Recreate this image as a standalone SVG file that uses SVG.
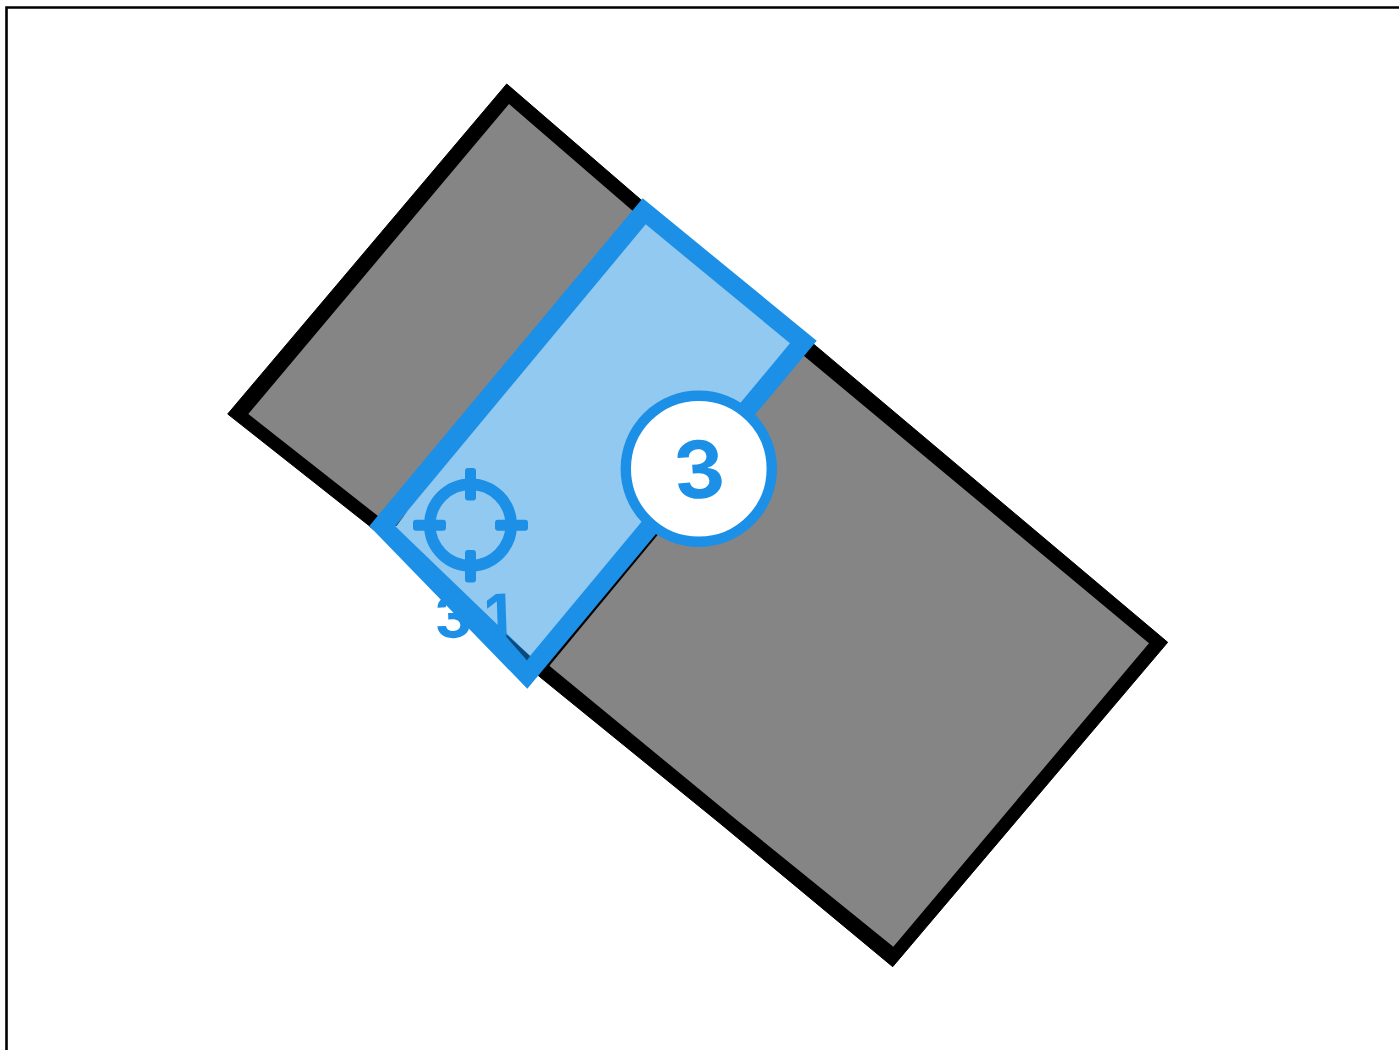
<svg xmlns="http://www.w3.org/2000/svg" width="1399" height="1050" viewBox="0 0 1399 1050">
<style>
.lbl{font-family:"Inter","Liberation Sans",sans-serif;font-weight:700;fill:#1c8fe6;text-anchor:middle}
.blue{fill:#1c8fe6}
</style>
<rect x="0" y="0" width="1399" height="1050" fill="#fff"/>
<g id="frame"><path d="M6.5 1050V7.5H1399" fill="none" stroke="#000" stroke-width="2.6"/></g>
<g id="zone-outer">
<polygon points="506.7,84 640,199 816.7,346.7 1167.7,642.3 892.7,966.7 720,823.3 540,677 368.3,525 227.7,414" fill="#000" stroke="#000" stroke-width="1" stroke-linejoin="round"/>
<polygon points="509,104 631.7,210 805,356.7 1149,643.3 893.3,946.7 736.7,820 552,668 376.7,515 248.3,414" fill="#858585"/>
</g>
<g id="zone-3">
<path d="M660,529 L545,668" fill="none" stroke="#000" stroke-width="4"/>
<polygon class="blue" points="642.7,198.3 816.7,340.7 527.3,688.7 369.3,526"/>
<polygon points="645.7,224.3 790,343.3 530,656 395,526" fill="#91c9f1"/>
<polygon points="395,526 408,510.5 396.5,526" fill="#0a4a78"/>
<polygon points="497,626 527,660.5 530,656" fill="#0a4a78"/>
</g>
<g id="target" class="blue">
<circle cx="470.5" cy="525" r="40.7" fill="none" stroke="#1c8fe6" stroke-width="11.6"/>
<rect x="465" y="468" width="11" height="32.5" rx="3"/>
<rect x="465" y="550" width="11" height="32.5" rx="3"/>
<rect x="413" y="519.7" width="33" height="11" rx="3"/>
<rect x="495" y="519.7" width="33" height="11" rx="3"/>
<text class="lbl" x="472" y="637" font-size="58" transform="rotate(-2 471 615)">3.1</text>
</g>
<g id="badge-3">
<circle cx="698.8" cy="468.8" r="73" fill="#fff" stroke="#1c8fe6" stroke-width="10.4"/>
<text class="lbl" x="699" y="498" font-size="79" transform="rotate(-4 699 470)">3</text>
</g>
</svg>
